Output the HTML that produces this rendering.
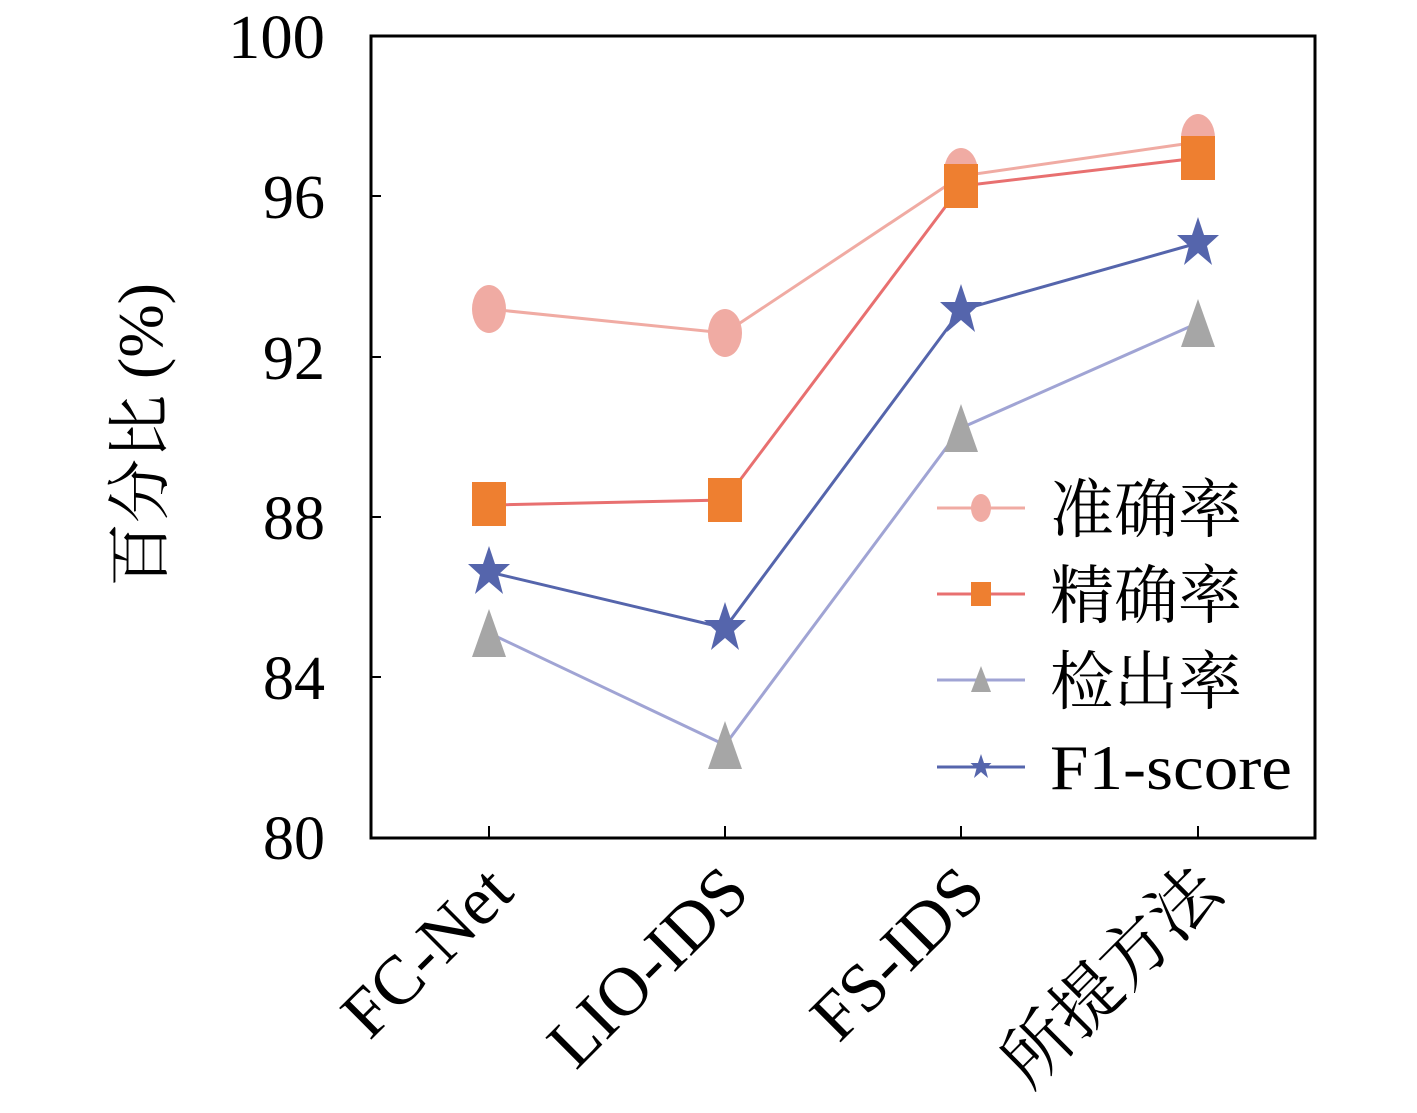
<!DOCTYPE html>
<html><head><meta charset="utf-8"><style>body{margin:0;background:#fff}</style></head><body>
<svg width="1417" height="1108" viewBox="0 0 1417 1108" xmlns="http://www.w3.org/2000/svg" font-family="'Liberation Serif','Noto Serif CJK SC',serif">
<rect width="1417" height="1108" fill="#fff"/>
<rect x="371" y="36" width="944" height="802" fill="none" stroke="#000" stroke-width="3"/>
<g stroke="#000" stroke-width="2">
<line x1="371" y1="196" x2="381" y2="196"/><line x1="371" y1="357" x2="381" y2="357"/><line x1="371" y1="517" x2="381" y2="517"/><line x1="371" y1="677" x2="381" y2="677"/>
<line x1="489" y1="838" x2="489" y2="826"/><line x1="725" y1="838" x2="725" y2="826"/><line x1="961" y1="838" x2="961" y2="826"/><line x1="1198" y1="838" x2="1198" y2="826"/>
</g>
<g font-size="62" text-anchor="end">
<text x="325" y="58" textLength="97" lengthAdjust="spacingAndGlyphs">100</text><text x="325" y="218">96</text><text x="325" y="379">92</text><text x="325" y="539">88</text><text x="325" y="699">84</text><text x="325" y="859">80</text>
</g>
<text transform="translate(162,435) rotate(-90)" font-size="64" text-anchor="middle">百分比 (%)</text>
<g font-size="69" text-anchor="end">
<text transform="translate(516,895) rotate(-45)">FC-Net</text>
<text transform="translate(752,895) rotate(-45)">LIO-IDS</text>
<text transform="translate(988,895) rotate(-45)">FS-IDS</text>
<text transform="translate(1225,895) rotate(-45)">所提方法</text>
</g>
<polyline points="489,309 725,333 961,176 1198,142" fill="none" stroke="#f0aba3" stroke-width="3"/>
<g fill="#f0aba3"><ellipse cx="489" cy="309" rx="17" ry="24"/><ellipse cx="725" cy="333" rx="17" ry="24"/><ellipse cx="961" cy="172" rx="17" ry="24"/><ellipse cx="1198" cy="138" rx="17" ry="24"/></g>
<polyline points="489,505 725,500 961,186 1198,158" fill="none" stroke="#e87070" stroke-width="3"/>
<g fill="#ee7f30"><rect x="472" y="482" width="34" height="44"/><rect x="708" y="478" width="34" height="44"/><rect x="944" y="164" width="34" height="44"/><rect x="1181" y="136" width="34" height="44"/></g>
<polyline points="489,633 725,745 961,428 1198,323" fill="none" stroke="#a0a4d4" stroke-width="3"/>
<g fill="#a6a6a6"><polygon points="489,609 472,657 506,657"/><polygon points="725,721 708,769 742,769"/><polygon points="961,404 944,452 978,452"/><polygon points="1198,299 1181,347 1215,347"/></g>
<polyline points="489,572 725,628 961,310 1198,243" fill="none" stroke="#5565ac" stroke-width="3"/>
<g fill="#5565ac">
<polygon transform="translate(489,572)" points="0,-26 6,-8 21,-8 9,3 14,22 0,10 -14,22 -9,3 -21,-8 -6,-8"/>
<polygon transform="translate(725,628)" points="0,-26 6,-8 21,-8 9,3 14,22 0,10 -14,22 -9,3 -21,-8 -6,-8"/>
<polygon transform="translate(961,310)" points="0,-26 6,-8 21,-8 9,3 14,22 0,10 -14,22 -9,3 -21,-8 -6,-8"/>
<polygon transform="translate(1198,243)" points="0,-26 6,-8 21,-8 9,3 14,22 0,10 -14,22 -9,3 -21,-8 -6,-8"/>
</g>
<line x1="937" y1="508" x2="1025" y2="508" stroke="#f0aba3" stroke-width="3"/><ellipse cx="981" cy="508" rx="10" ry="14" fill="#f0aba3"/>
<line x1="937" y1="594" x2="1025" y2="594" stroke="#e87070" stroke-width="3"/><rect x="971" y="582" width="20" height="24" fill="#ee7f30"/>
<line x1="937" y1="680" x2="1025" y2="680" stroke="#a0a4d4" stroke-width="3"/><polygon points="981,666 971,692 991,692" fill="#a6a6a6"/>
<line x1="937" y1="767" x2="1025" y2="767" stroke="#5565ac" stroke-width="3"/><polygon transform="translate(981,767) scale(0.5)" points="0,-26 6,-8 21,-8 9,3 14,22 0,10 -14,22 -9,3 -21,-8 -6,-8" fill="#5565ac"/>
<g font-size="64"><text x="1050" y="532">准确率</text><text x="1050" y="618">精确率</text><text x="1050" y="704">检出率</text><text x="1050" y="789" textLength="242" lengthAdjust="spacingAndGlyphs">F1-score</text></g>
</svg>
</body></html>
